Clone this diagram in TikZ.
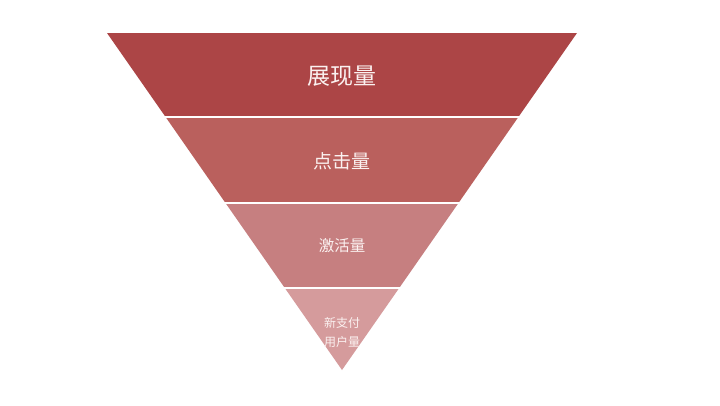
\documentclass[tikz,border=0pt]{standalone}
\usepackage{fontspec}
\newfontfamily\cjk{Noto Sans CJK SC}
\definecolor{bandA}{HTML}{AC4546}
\definecolor{bandB}{HTML}{BA605D}
\definecolor{bandC}{HTML}{C67F80}
\definecolor{bandD}{HTML}{D59B9C}
\definecolor{txt}{HTML}{FBF1F0}
\tikzset{
  lbl/.style={text=txt, font=\cjk, inner sep=0pt, align=center},
  sep/.style={draw=white, line width=2pt}
}
\begin{document}
\begin{tikzpicture}[x=1pt,y=-1pt]
\useasboundingbox[fill=white] (0,0) rectangle (720,405);
\coordinate (tl) at (107,33);
\coordinate (tr) at (577,33);
\coordinate (l1) at (165.6,117);
\coordinate (r1) at (518.4,117);
\coordinate (l2) at (225.5,203);
\coordinate (r2) at (458.5,203);
\coordinate (l3) at (284.8,288);
\coordinate (r3) at (399.2,288);
\coordinate (apex) at (342,370);
\fill[bandA] (tl) -- (tr) -- (r1) -- (l1) -- cycle;
\fill[bandB] (l1) -- (r1) -- (r2) -- (l2) -- cycle;
\fill[bandC] (l2) -- (r2) -- (r3) -- (l3) -- cycle;
\fill[bandD] (l3) -- (r3) -- (apex) -- cycle;
\draw[sep] ([xshift=-3pt]l1) -- ([xshift=3pt]r1);
\draw[sep] ([xshift=-3pt]l2) -- ([xshift=3pt]r2);
\draw[sep] ([xshift=-3pt]l3) -- ([xshift=3pt]r3);
\node[lbl, font=\cjk\fontsize{23}{26}\selectfont] (t1) at (342,76) {展现量};
\node[lbl, font=\cjk\fontsize{19}{22}\selectfont] (t2) at (342,161) {点击量};
\node[lbl, font=\cjk\fontsize{15.5}{18}\selectfont] (t3) at (342,246) {激活量};
\node[lbl, font=\cjk\fontsize{12}{19}\selectfont] (t4) at (342,332) {新支付\\用户量};
\end{tikzpicture}
\end{document}
